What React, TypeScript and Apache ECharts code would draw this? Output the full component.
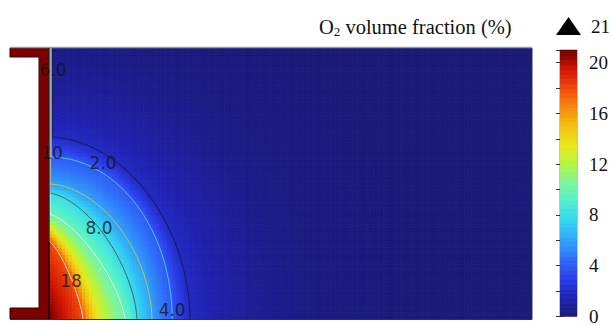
import React, { useEffect, useRef } from "react";
import * as echarts from "echarts";

// ---- data ----
// domain (arbitrary length units): x from wall (0) to outlet (100), y from bottom (0) to top (56)
const domainWidth = 100;
const domainHeight = 56;
const peakValue = 21; // maximum O2 volume fraction (%)
const wallDecay = 0.28; // thickness of the O2-rich boundary layer along the wall

// contour levels (%) and their reach along the bottom and along the wall, plus shape exponent
const fieldLevels = [18, 10, 8, 6, 4, 2, 1, 0.3, 0];
const bottomReach = [7.04, 15.7, 18.2, 21.3, 25.5, 29.2, 39.3, 53.8, 78.7];
const wallReach = [16.1, 21.7, 26.0, 27.9, 33.5, 37.6, 46.5, 57.9, 78.5];
const shapeExp = [1.3, 1.4, 1.6, 1.8, 2.0, 1.9, 2.0, 2.0, 2.0];

// drawn contour lines
const lineLevels = [2, 4, 6, 8, 10, 18];
const lineColors = ["#17174c", "#5ccbff", "#d4c64a", "#4d4d55", "#f2f2f2", "#f2f2f2"];

// contour labels
const labelTexts = ["6.0", "10", "2.0", "8.0", "18", "4.0"];
const labelX = [0.83, 0.62, 11.2, 10.35, 4.55, 25.5];
const labelY = [51.4, 34.3, 32.2, 18.8, 7.85, 1.86];

// colour bar
const barMin = 0;
const barMax = 21;
const barTickStep = 2;
const barLabelStep = 4;

const colorStops = [
  "#1a1a78", "#1f22b0", "#2a3ce8", "#2f6cfa", "#2fa4fb", "#33d4f0", "#4ef0d0",
  "#7af5a0", "#b4f542", "#e6e81a", "#f5c010", "#f58a0c", "#f04a08", "#d01405", "#6e0000",
];

// ---- field construction ----
function contourScale(i: number, dx: number, h: number) {
  const p = shapeExp[i];
  const g = Math.pow(dx / bottomReach[i], p) + Math.pow(h / wallReach[i], p);
  return Math.pow(g, 1 / p);
}

function fieldValue(dx: number, h: number) {
  let v = 0;
  let prevS = 0;
  for (let i = 0; i < fieldLevels.length; i++) {
    const s = contourScale(i, dx, h);
    if (s <= 1) {
      if (i === 0) {
        v = fieldLevels[0] + (peakValue - fieldLevels[0]) * (1 - s);
      } else {
        const f = (1 - s) / (prevS - s);
        v = fieldLevels[i] + f * (fieldLevels[i - 1] - fieldLevels[i]);
      }
      break;
    }
    prevS = s;
  }
  const wall = peakValue * Math.exp(-dx / wallDecay);
  return Math.max(v, wall);
}

function buildCells() {
  const xe: number[] = [];
  for (let i = 0; i < 10; i++) xe.push(i * 0.2);
  for (let i = 0; 2 + i * 0.7 < domainWidth; i++) xe.push(2 + i * 0.7);
  xe.push(domainWidth);
  const ye: number[] = [];
  for (let j = 0; j * 0.7 < domainHeight; j++) ye.push(j * 0.7);
  ye.push(domainHeight);
  const cells: number[][] = [];
  for (let i = 0; i < xe.length - 1; i++) {
    for (let j = 0; j < ye.length - 1; j++) {
      const cx = (xe[i] + xe[i + 1]) / 2;
      const cy = (ye[j] + ye[j + 1]) / 2;
      cells.push([xe[i], xe[i + 1], ye[j], ye[j + 1], fieldValue(cx, cy)]);
    }
  }
  return cells;
}

function buildBarCells() {
  const cells: number[][] = [];
  const n = 210;
  for (let k = 0; k < n; k++) {
    const v0 = barMin + ((barMax - barMin) * k) / n;
    const v1 = barMin + ((barMax - barMin) * (k + 1)) / n;
    cells.push([0, 1, v0, v1, (v0 + v1) / 2]);
  }
  return cells;
}

function contourLine(level: number) {
  const i = fieldLevels.indexOf(level);
  const a = bottomReach[i];
  const b = wallReach[i];
  const p = shapeExp[i];
  const dWall = wallDecay * Math.log(peakValue / level);
  const hAtWall = b * Math.pow(Math.max(0, 1 - Math.pow(dWall / a, p)), 1 / p);
  const pts: number[][] = [
    [dWall, domainHeight],
    [dWall, hAtWall],
  ];
  const n = 120;
  for (let k = n; k >= 0; k--) {
    const t = (k / n) * (Math.PI / 2);
    const x = a * Math.pow(Math.cos(t), 2 / p);
    const y = b * Math.pow(Math.sin(t), 2 / p);
    if (x > dWall) pts.push([x, y]);
  }
  return pts;
}

const renderCell = (params: any, api: any) => {
  const tl = api.coord([api.value(0), api.value(3)]);
  const br = api.coord([api.value(1), api.value(2)]);
  const c = api.visual("color");
  return {
    type: "rect",
    shape: { x: tl[0], y: tl[1], width: br[0] - tl[0], height: br[1] - tl[1] },
    style: { fill: c, stroke: c, lineWidth: 0.8 },
    silent: true,
  };
};

const serif = "Liberation Serif";
const sans = "DejaVu Sans";
const serifRich = { t: { fontFamily: serif, fontWeight: "normal", fontSize: 19, color: "#111" } };

export default function App() {
  const ref = useRef<HTMLDivElement>(null);
  useEffect(() => {
    document.body.style.margin = "0";
    if (!ref.current) return;
    const chart = echarts.init(ref.current, null, { renderer: "svg" });

    const lineSeries = lineLevels.map((lv, idx) => ({
      type: "line",
      xAxisIndex: 0,
      yAxisIndex: 0,
      data: contourLine(lv),
      showSymbol: false,
      symbol: "none",
      silent: true,
      z: 3,
      lineStyle: { color: lineColors[idx], width: 0.9 },
    }));

    const option: any = {
      animation: false,
      textStyle: { fontFamily: serif },
      title: {
        text: "{a|O}{s|2}{a| volume fraction (%)}",
        left: 319,
        top: 15,
        padding: 0,
        textStyle: {
          fontFamily: serif,
          fontWeight: "normal",
          fontSize: 20,
          color: "#111",
          rich: {
            a: { fontFamily: serif, fontWeight: "normal", fontSize: 20.5, color: "#111", lineHeight: 24 },
            s: { fontFamily: serif, fontWeight: "normal", fontSize: 13, color: "#111", lineHeight: 24, padding: [9, 0, 0, 0] },
          },
        },
      },
      grid: [
        { left: 49, top: 48, width: 483, height: 271, show: false },
        { left: 560, top: 50, width: 19, height: 274, show: true, borderColor: "#8a8a8a", borderWidth: 1 },
      ],
      xAxis: [
        { type: "value", gridIndex: 0, min: 0, max: domainWidth, show: false },
        { type: "value", gridIndex: 1, min: 0, max: 1, show: false },
      ],
      yAxis: [
        { type: "value", gridIndex: 0, min: 0, max: domainHeight, show: false },
        {
          type: "value",
          gridIndex: 1,
          min: barMin,
          max: barMax,
          interval: barTickStep,
          position: "right",
          axisLine: { show: false },
          splitLine: { show: false },
          axisTick: { show: true, inside: true, length: 4, lineStyle: { color: "#333" } },
          axisLabel: {
            margin: 12,
            fontFamily: serif,
            fontSize: 19,
            color: "#111",
            rich: serifRich,
            formatter: (v: number) => (v % barLabelStep === 0 && v <= 20 ? "{t|" + v + "}" : ""),
          },
        },
        {
          type: "value",
          gridIndex: 1,
          min: barMin,
          max: barMax,
          interval: barTickStep,
          position: "left",
          axisLine: { show: false },
          splitLine: { show: false },
          axisTick: { show: true, inside: true, length: 4, lineStyle: { color: "#333" } },
          axisLabel: { show: false },
        },
      ],
      visualMap: {
        type: "continuous",
        show: false,
        min: barMin,
        max: barMax,
        dimension: 4,
        seriesIndex: [0, 1],
        inRange: { color: colorStops },
      },
      graphic: [
        // wall (inlet plate)
        { type: "rect", z: 0, shape: { x: 39, y: 48, width: 10, height: 271 }, style: { fill: "#7c0000", stroke: "#3a0000", lineWidth: 1 } },
        { type: "rect", z: 0, shape: { x: 10, y: 48, width: 39, height: 9 }, style: { fill: "#7c0000", stroke: "#3a0000", lineWidth: 1 } },
        { type: "rect", z: 0, shape: { x: 10, y: 308, width: 39, height: 11 }, style: { fill: "#7c0000", stroke: "#3a0000", lineWidth: 1 } },
        { type: "rect", z: 0, shape: { x: 39.5, y: 49, width: 9, height: 269 }, style: { fill: "#7c0000" } },
        // plot frame
        { type: "line", z: 4, shape: { x1: 10, y1: 47.5, x2: 532, y2: 47.5 }, style: { stroke: "#9a9a9a", lineWidth: 1.5 } },
        { type: "line", z: 4, shape: { x1: 532, y1: 48, x2: 532, y2: 319.5 }, style: { stroke: "#333", lineWidth: 1 } },
        { type: "line", z: 4, shape: { x1: 10, y1: 319.5, x2: 532, y2: 319.5 }, style: { stroke: "#333", lineWidth: 1 } },
        { type: "line", z: 4, shape: { x1: 49, y1: 48, x2: 49, y2: 319 }, style: { stroke: "#000", lineWidth: 1.2 } },
      ],
      series: [
        {
          type: "custom",
          xAxisIndex: 0,
          yAxisIndex: 0,
          renderItem: renderCell,
          data: buildCells(),
          encode: { x: [0, 1], y: [2, 3] },
          clip: true,
          progressive: 0,
          silent: true,
          z: 1,
        },
        {
          type: "custom",
          xAxisIndex: 1,
          yAxisIndex: 1,
          renderItem: renderCell,
          data: buildBarCells(),
          encode: { x: [0, 1], y: [2, 3] },
          clip: true,
          progressive: 0,
          silent: true,
          z: 1,
          markPoint: {
            silent: true,
            symbol: "triangle",
            symbolSize: [25, 18],
            symbolOffset: [0, -24],
            itemStyle: { color: "#000" },
            label: {
              show: true,
              position: "right",
              distance: 10,
              formatter: "{t|" + barMax + "}",
              rich: serifRich,
              fontFamily: serif,
              fontSize: 19,
              color: "#111",
            },
            data: [{ coord: [0.5, barMax], value: barMax }],
          },
        },
        ...lineSeries,
        {
          type: "scatter",
          xAxisIndex: 0,
          yAxisIndex: 0,
          symbolSize: 0,
          silent: true,
          z: 6,
          data: labelTexts.map((t, i) => ({ name: t, value: [labelX[i], labelY[i]] })),
          label: {
            show: true,
            position: "inside",
            formatter: "{b}",
            fontFamily: sans,
            fontSize: 17,
            color: "#151515",
          },
        },
      ],
    };
    chart.setOption(option);
    return () => chart.dispose();
  }, []);
  return <div ref={ref} style={{ width: 611, height: 326 }} />;
}
